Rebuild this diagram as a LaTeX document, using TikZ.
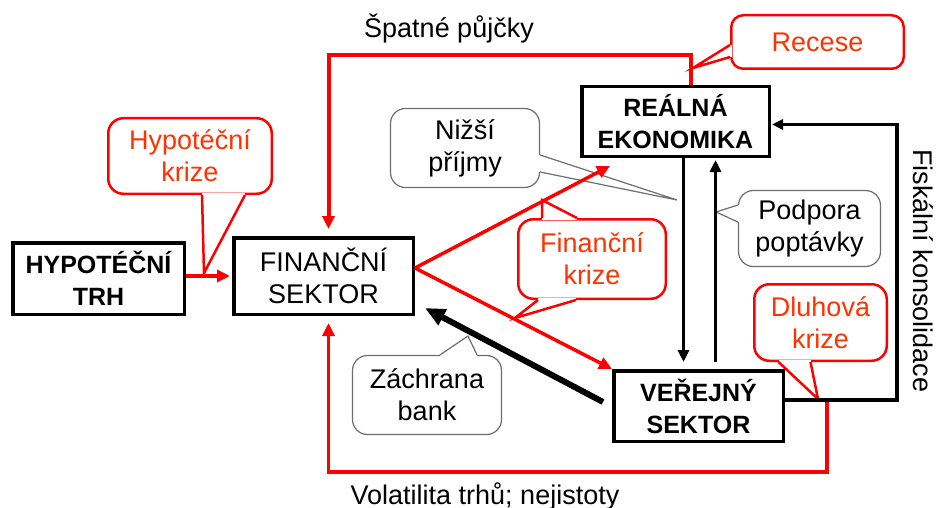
\documentclass[tikz,border=0pt]{standalone}
\usepackage{fontspec}
\setmainfont{Liberation Sans}
\usetikzlibrary{arrows.meta, calc}

\definecolor{krizered}{RGB}{255,0,0}
\definecolor{krizetext}{RGB}{255,51,0}
\definecolor{notegray}{RGB}{110,110,110}

\tikzset{
    sector/.style={draw, line width=3.5pt, align=center, inner sep=0pt, font=\fontsize{25}{32}\selectfont\bfseries},
    crisis/.style={draw=krizered, line width=2.5pt, rounded corners=15pt, fill=white, text=krizetext, align=center, inner sep=0pt, font=\fontsize{27}{32}\selectfont},
    note/.style={draw=notegray, line width=1.2pt, rounded corners=15pt, fill=white, align=center, inner sep=0pt, font=\fontsize{27}{32}\selectfont},
    tailred/.style={krizered, line width=2.5pt},
    tailgray/.style={notegray, line width=1.2pt},
    label/.style={font=\fontsize{27}{32}\selectfont, inner sep=0pt},
    redflow/.style={krizered, line width=3.5pt, -{Triangle[length=13pt,width=12pt]}},
    blackflow/.style={black, line width=3.5pt, -{Triangle[length=12pt,width=11pt]}}
}

\newcommand{\calltail}[4][tailgray]{%
    \fill[white] (#2) -- (#4) -- (#3) -- cycle;
    \draw[white, line width=3.5pt] (#2) -- (#3);
    \draw[#1] (#2) -- (#4) -- (#3);
}

\begin{document}
\begin{tikzpicture}[x=1pt, y=-1pt]
    \useasboundingbox (0,0) rectangle (939,508);

    \node[sector, minimum width=171.5pt, minimum height=71.5pt] (trh) at (98.5,278.5) {HYPOTÉČNÍ\\TRH};
    \node[sector, font=\fontsize{27}{32}\selectfont, minimum width=179.5pt, minimum height=76.5pt] (fin) at (323.5,276) {FINANČNÍ\\SEKTOR};
    \node[sector, minimum width=187.5pt, minimum height=69.5pt] (real) at (675.5,121.5) {REÁLNÁ\\EKONOMIKA};
    \node[sector, minimum width=169.5pt, minimum height=70.5pt] (ver) at (698.5,406) {VEŘEJNÝ\\SEKTOR};

    \node[crisis, minimum width=163.5pt, minimum height=75.5pt] (hk) at (190,156) {Hypotéční\\krize};
    \node[crisis, rounded corners=12pt, minimum width=172.5pt, minimum height=53.5pt] (rec) at (817.5,42) {Recese};
    \node[note, minimum width=149pt, minimum height=79pt] (niz) at (465,148) {Nižší\\příjmy};
    \node[crisis, minimum width=147.5pt, minimum height=79.5pt] (fk) at (592,259) {Finanční\\krize};
    \node[note, minimum width=142pt, minimum height=76pt] (pod) at (809.5,228.5) {Podpora\\poptávky};
    \node[crisis, minimum width=132.5pt, minimum height=76.5pt] (dk) at (820.5,322.5) {Dluhová\\krize};
    \node[note, minimum width=149pt, minimum height=79pt] (zb) at (427,395) {Záchrana\\bank};

    \coordinate (hktip) at (204,273);
    \coordinate (rectip) at (693,68);
    \coordinate (niztip) at (677,200);
    \coordinate (fktop) at (542,200);
    \coordinate (fkbottom) at (515,318);
    \coordinate (podtip) at (716,212);
    \coordinate (dktip) at (818,399);
    \coordinate (zbtip) at (468,336);

    \calltail[tailred]{[xshift=12pt]hk.south}{[xshift=55pt]hk.south}{hktip}
    \calltail[tailred]{[yshift=-3pt]rec.west}{[yshift=-15pt]rec.west}{rectip}
    \calltail{[yshift=-7pt]niz.east}{[yshift=-24pt]niz.east}{niztip}
    \calltail[tailred]{[xshift=-50pt]fk.north}{[xshift=-15pt]fk.north}{fktop}
    \calltail[tailred]{[xshift=-54pt]fk.south}{[xshift=-16pt]fk.south}{fkbottom}
    \calltail{[yshift=23.5pt]pod.west}{[yshift=6.5pt]pod.west}{podtip}
    \calltail[tailred]{[xshift=-42pt]dk.south}{[xshift=-10pt]dk.south}{dktip}
    \calltail{[xshift=13pt]zb.north}{[xshift=50pt]zb.north}{zbtip}

    \draw[redflow, shorten >=2pt] (trh.east |- fin.west) -- (fin.west);
    \draw[redflow, line width=4pt, shorten >=7pt] ([xshift=15pt]real.north) -- ++(0,-30) -| ([xshift=5pt]fin.north);
    \draw[redflow] ([yshift=8pt]fin.east) -- ($(real.south west)+(30,8)$);
    \draw[redflow] ([yshift=8pt]fin.east) -- (ver.north west);
    \draw[redflow, shorten >=7pt] ($(ver.east)+(42,-6)$) -- ++(0,72) -| ([xshift=5pt]fin.south);

    \draw[blackflow, line width=6pt, -{Triangle[length=20pt,width=17pt]}] ($(ver.west)+(-9,-4)$) -- ($(fin.south east)+(10,-8)$);
    \draw[blackflow, shorten >=7pt] ([xshift=8pt]real.south) -- ([xshift=8pt]real.south |- ver.north);
    \draw[blackflow, shorten <=7pt, shorten >=2pt] ([xshift=40pt]real.south |- ver.north) -- ([xshift=40pt]real.south);
    \draw[blackflow, -{Triangle[length=11pt,width=10pt]}, shorten >=1pt] ([yshift=6pt]ver.east) -- ++(112,0) |- ([yshift=-3pt]real.east);

    \node[label, anchor=base] (spatne) at (449,38) {Špatné půjčky};
    \node[label, anchor=base] (volat) at (485,504) {Volatilita trhů; nejistoty};
    \node[label, rotate=-90] (fisk) at (923,271) {Fiskální konsolidace};
\end{tikzpicture}
\end{document}
